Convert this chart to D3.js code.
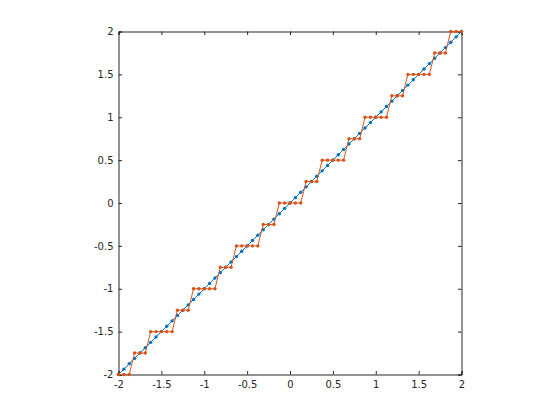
<!DOCTYPE html>
<html>
<head>
<meta charset="utf-8">
<script src="https://cdn.jsdelivr.net/npm/d3@7"></script>
<style>
body { margin: 0; background: #fff; }
svg { display: block; }
.tick text { font-family: "DejaVu Sans", sans-serif; font-size: 10px; fill: #262626; }
</style>
</head>
<body>
<svg id="chart" width="560" height="420"></svg>
<script>
// sample positions (x)
var xVals = [-2, -1.9375, -1.875, -1.8125, -1.75, -1.6875, -1.625, -1.5625, -1.5, -1.4375,
    -1.375, -1.3125, -1.25, -1.1875, -1.125, -1.0625, -1, -0.9375, -0.875, -0.8125,
    -0.75, -0.6875, -0.625, -0.5625, -0.5, -0.4375, -0.375, -0.3125, -0.25, -0.1875,
    -0.125, -0.0625, 0, 0.0625, 0.125, 0.1875, 0.25, 0.3125, 0.375, 0.4375,
    0.5, 0.5625, 0.625, 0.6875, 0.75, 0.8125, 0.875, 0.9375, 1, 1.0625,
    1.125, 1.1875, 1.25, 1.3125, 1.375, 1.4375, 1.5, 1.5625, 1.625, 1.6875,
    1.75, 1.8125, 1.875, 1.9375, 2];

// blue series (the straight line)
var lineVals = [-2, -1.9375, -1.875, -1.8125, -1.75, -1.6875, -1.625, -1.5625, -1.5, -1.4375,
    -1.375, -1.3125, -1.25, -1.1875, -1.125, -1.0625, -1, -0.9375, -0.875, -0.8125,
    -0.75, -0.6875, -0.625, -0.5625, -0.5, -0.4375, -0.375, -0.3125, -0.25, -0.1875,
    -0.125, -0.0625, 0, 0.0625, 0.125, 0.1875, 0.25, 0.3125, 0.375, 0.4375,
    0.5, 0.5625, 0.625, 0.6875, 0.75, 0.8125, 0.875, 0.9375, 1, 1.0625,
    1.125, 1.1875, 1.25, 1.3125, 1.375, 1.4375, 1.5, 1.5625, 1.625, 1.6875,
    1.75, 1.8125, 1.875, 1.9375, 2];

// orange series (the staircase)
var stepVals = [-2, -2, -2, -1.75, -1.75, -1.75, -1.5, -1.5, -1.5, -1.5,
    -1.5, -1.25, -1.25, -1.25, -1, -1, -1, -1, -1, -0.75,
    -0.75, -0.75, -0.5, -0.5, -0.5, -0.5, -0.5, -0.25, -0.25, -0.25,
    0, 0, 0, 0, 0, 0.25, 0.25, 0.25, 0.5, 0.5,
    0.5, 0.5, 0.5, 0.75, 0.75, 0.75, 1, 1, 1, 1,
    1, 1.25, 1.25, 1.25, 1.5, 1.5, 1.5, 1.5, 1.5, 1.75,
    1.75, 1.75, 2, 2, 2];

var tickVals = [-2, -1.5, -1, -0.5, 0, 0.5, 1, 1.5, 2];
var tickLabels = ["-2", "-1.5", "-1", "-0.5", "0", "0.5", "1", "1.5", "2"];

var COLOR_AXIS = "#262626";
var COLOR_LINE = "#0072BD";
var COLOR_STEP = "#D95319";

var plotLeft = 118.5, plotTop = 31.5, plotSize = 343;
var tickLen = 3.5;

var svg = d3.select("#chart");
var g = svg.append("g");

var x = d3.scaleLinear().domain([-2, 2]).range([plotLeft, plotLeft + plotSize]);
var y = d3.scaleLinear().domain([-2, 2]).range([plotTop + plotSize, plotTop]);

function fmt(d) { return tickLabels[tickVals.indexOf(d)]; }

// axes (ticks pointing inward, box on)
var bottom = g.append("g").attr("transform", "translate(0," + (plotTop + plotSize) + ")")
    .call(d3.axisBottom(x).tickValues(tickVals).tickFormat(fmt).tickSize(-tickLen).tickPadding(6));
var top_ = g.append("g").attr("transform", "translate(0," + plotTop + ")")
    .call(d3.axisTop(x).tickValues(tickVals).tickFormat("").tickSize(-tickLen));
var left = g.append("g").attr("transform", "translate(" + plotLeft + ",0)")
    .call(d3.axisLeft(y).tickValues(tickVals).tickFormat(fmt).tickSize(-tickLen).tickPadding(5));
var right = g.append("g").attr("transform", "translate(" + (plotLeft + plotSize) + ",0)")
    .call(d3.axisRight(y).tickValues(tickVals).tickFormat("").tickSize(-tickLen));

[bottom, top_, left, right].forEach(function (a) {
    a.select(".domain").attr("stroke", COLOR_AXIS).attr("stroke-width", 1);
    a.selectAll(".tick line").attr("stroke", COLOR_AXIS).attr("stroke-width", 1);
    a.attr("font-family", null).attr("font-size", null);
});
// drop the tick at the corners where the domain path already draws the line
bottom.selectAll(".tick text").attr("dy", "0.71em");

var pts = xVals.map(function (v, i) { return { x: v, a: lineVals[i], b: stepVals[i] }; });

var lineA = d3.line().x(function (d) { return x(d.x); }).y(function (d) { return y(d.a); });
var lineB = d3.line().x(function (d) { return x(d.x); }).y(function (d) { return y(d.b); });

// blue line + dots
g.append("path").datum(pts).attr("d", lineA)
    .attr("fill", "none").attr("stroke", COLOR_LINE).attr("stroke-width", 1);
g.selectAll("circle.a").data(pts).join("circle").attr("class", "a")
    .attr("cx", function (d) { return x(d.x); })
    .attr("cy", function (d) { return y(d.a); })
    .attr("r", 1.7).attr("fill", COLOR_LINE);

// orange staircase + dots
g.append("path").datum(pts).attr("d", lineB)
    .attr("fill", "none").attr("stroke", COLOR_STEP).attr("stroke-width", 1);
g.selectAll("circle.b").data(pts).join("circle").attr("class", "b")
    .attr("cx", function (d) { return x(d.x); })
    .attr("cy", function (d) { return y(d.b); })
    .attr("r", 1.7).attr("fill", COLOR_STEP);
</script>
</body>
</html>
